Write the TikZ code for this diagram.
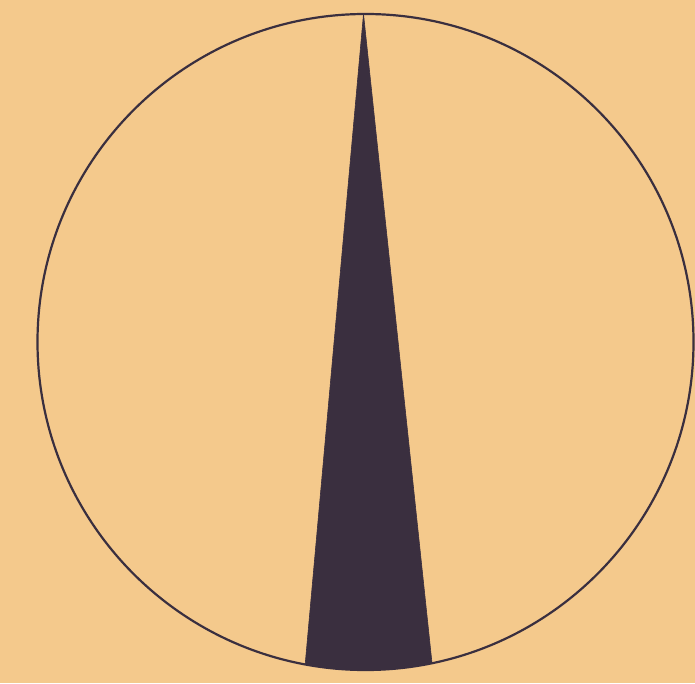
\documentclass[tikz,border=0pt]{standalone}
\usepackage{tikz}
\usetikzlibrary{calc}
\definecolor{paper}{HTML}{F4C98C}
\definecolor{ink}{HTML}{3A2F3F}
\begin{document}
\begin{tikzpicture}[x=1pt,y=1pt,
  rim/.style={draw=ink,line width=2.2pt},
  wedge/.style={fill=ink,draw=ink,line width=0.6pt,line join=miter}]
\fill[paper] (0,0) rectangle (695,683);
\useasboundingbox (0,0) rectangle (695,683);
\coordinate (c) at (365.5,341);
\coordinate (apex) at (363.5,669);
\fill[wedge] (apex) -- ($(c)+(259.4:328)$) arc[start angle=259.4,end angle=281.7,radius=328] -- cycle;
\draw[rim] (c) circle[radius=328];
\end{tikzpicture}
\end{document}
